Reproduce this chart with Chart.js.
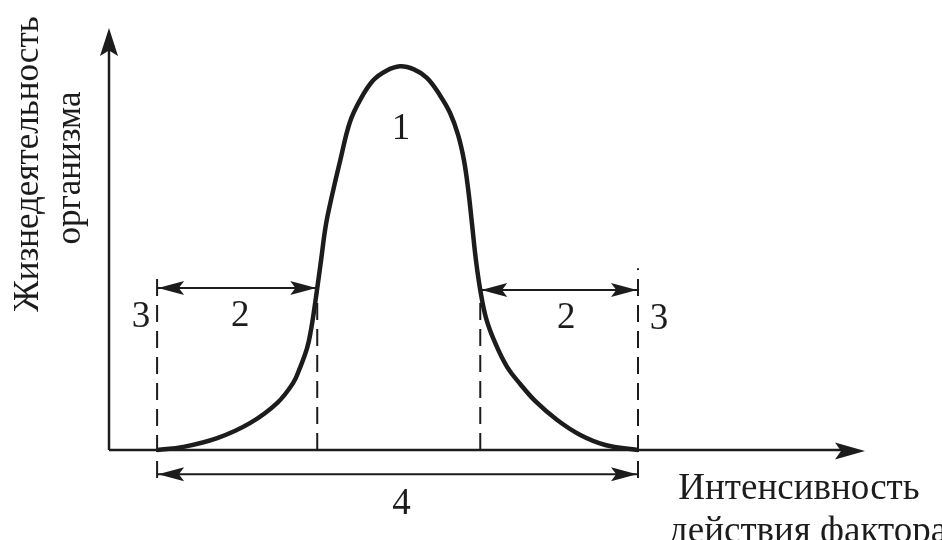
<!DOCTYPE html>
<html lang="ru">
<head>
    <meta charset="UTF-8">
    <title>Жизнедеятельность организма</title>
    <script src="https://cdn.jsdelivr.net/npm/chart.js"></script>
    <style>
        html, body { margin: 0; padding: 0; background: #fff; }
        #chart { display: block; }
    </style>
</head>
<body>
    <canvas id="chart" width="942" height="540"></canvas>

    <script>
        // curve of the organism's vital activity vs. factor intensity
        const curveX = [0, 0.54, 1.25, 1.93, 2.50, 2.83, 2.97, 3.12, 3.20, 3.26, 3.33, 3.41, 3.51, 3.64, 3.81,
                        4.01, 4.22, 4.49, 4.76, 5.05, 5.34, 5.61, 5.88, 6.09, 6.26, 6.38, 6.47, 6.55, 6.63,
                        6.72, 6.84, 7.03, 7.28, 7.55, 7.86, 8.32, 8.80, 9.32, 10.0];
        const curveY = [0, 0.8, 3.1, 7.0, 12.3, 17.5, 21.4, 26.6, 31.3, 36.0, 42.2, 49.5, 58.7, 66.5, 75.6,
                        85.5, 91.2, 96.3, 98.8, 100, 99.2, 97.0, 92.5, 87.9, 82.1, 75.6, 67.8, 58.7, 49.5,
                        41.7, 34.4, 27.9, 21.6, 17.2, 12.8, 7.8, 3.9, 1.3, 0];

        // zone boundaries (x) : lethal limits and optimum limits
        const lethalX = [0, 10];
        const optimumX = [3.33, 6.72];
        const lethalTopY = [44.8, 47.4];
        const optimumTopY = [42.2, 41.7];
        const guideBottomY = -7.3;

        // dimension arrows: "2" (pessimum zones) and "4" (tolerance range)
        const zoneArrowY = [42.2, 41.7];
        const rangeArrowY = -6.3;

        const zoneLabels = ['1', '2', '3', '4'];
        const yTitle = ['Жизнедеятельность', 'организма'];
        const xTitle = ['Интенсивность', 'действия фактора'];

        const ink = '#1c1c1c';
        const serif = '"Liberation Serif", "DejaVu Serif", serif';

        const curve = curveX.map((x, i) => ({ x: x, y: curveY[i] }));

        function guide(x, top, bottom) {
            return {
                data: [{ x: x, y: bottom }, { x: x, y: top }],
                borderColor: ink, borderWidth: 2, borderDash: [17, 9],
                pointRadius: 0, clip: false, fill: false, tension: 0
            };
        }
        function arrow(x1, x2, y) {
            return {
                data: [{ x: x1, y: y }, { x: x2, y: y }],
                borderColor: ink, borderWidth: 2,
                pointRadius: 0, clip: false, fill: false, tension: 0,
                arrows: true
            };
        }

        function head(ctx, tx, ty, dx, dy, len, hw) {
            const px = -dy, py = dx;
            ctx.beginPath();
            ctx.moveTo(tx, ty);
            ctx.lineTo(tx - dx * len + px * hw, ty - dy * len + py * hw);
            ctx.lineTo(tx - dx * len * 0.8, ty - dy * len * 0.8);
            ctx.lineTo(tx - dx * len - px * hw, ty - dy * len - py * hw);
            ctx.closePath();
            ctx.fill();
        }

        const decor = {
            id: 'decor',
            afterDatasetsDraw(chart) {
                const ctx = chart.ctx;
                const a = chart.chartArea;
                const xs = chart.scales.x, ys = chart.scales.y;
                ctx.save();
                ctx.fillStyle = ink;
                ctx.strokeStyle = ink;

                // axes with arrows
                ctx.lineWidth = 2.5;
                ctx.beginPath();
                ctx.moveTo(a.left, a.bottom);
                ctx.lineTo(a.right - 20, a.bottom);
                ctx.moveTo(a.left, a.bottom);
                ctx.lineTo(a.left, a.top + 20);
                ctx.stroke();
                head(ctx, a.right, a.bottom + 1, 1, 0, 30, 8.5);
                head(ctx, a.left, a.top, 0, -1, 28, 9);

                // heads on the dimension arrows
                chart.data.datasets.forEach((ds, i) => {
                    if (!ds.arrows) return;
                    const pts = chart.getDatasetMeta(i).data;
                    const p1 = pts[0], p2 = pts[1];
                    head(ctx, p1.x + 1, p1.y, -1, 0, 26, 7);
                    head(ctx, p2.x - 1, p2.y, 1, 0, 26, 7);
                });

                // zone numbers
                ctx.font = '37px ' + serif;
                ctx.textAlign = 'center';
                ctx.textBaseline = 'alphabetic';
                const peakI = curveY.indexOf(Math.max(...curveY));
                ctx.fillText(zoneLabels[0], xs.getPixelForValue(curveX[peakI]) + 1, ys.getPixelForValue(curveY[peakI]) + 73);
                const yL = ys.getPixelForValue(zoneArrowY[0]);
                const yR = ys.getPixelForValue(zoneArrowY[1]);
                ctx.fillText(zoneLabels[1], xs.getPixelForValue((lethalX[0] + optimumX[0]) / 2) + 3, yL + 38);
                ctx.fillText(zoneLabels[1], xs.getPixelForValue((optimumX[1] + lethalX[1]) / 2) + 7, yR + 38);
                ctx.fillText(zoneLabels[2], xs.getPixelForValue(lethalX[0]) - 16, yL + 39);
                ctx.fillText(zoneLabels[2], xs.getPixelForValue(lethalX[1]) + 21, yR + 39);
                ctx.fillText(zoneLabels[3], xs.getPixelForValue((lethalX[0] + lethalX[1]) / 2) + 4, ys.getPixelForValue(rangeArrowY) + 40);

                // axis titles
                ctx.font = '35px ' + serif;
                ctx.save();
                ctx.translate(38, 164);
                ctx.rotate(-Math.PI / 2);
                ctx.fillText(yTitle[0], 0, 0);
                ctx.restore();
                ctx.save();
                ctx.translate(80, 168);
                ctx.rotate(-Math.PI / 2);
                ctx.fillText(yTitle[1], 0, 0);
                ctx.restore();

                ctx.font = '37px ' + serif;
                ctx.fillText(xTitle[0], 799, 499);
                ctx.fillText(xTitle[1], 808, 542);
                ctx.restore();
            }
        };

        new Chart(document.getElementById('chart'), {
            type: 'line',
            data: {
                datasets: [
                    {
                        data: curve,
                        borderColor: ink, borderWidth: 4.5,
                        pointRadius: 0, fill: false, clip: false,
                        tension: 0.4
                    },
                    guide(lethalX[0], lethalTopY[0], guideBottomY),
                    guide(optimumX[0], optimumTopY[0], 0),
                    guide(optimumX[1], optimumTopY[1], 0),
                    guide(lethalX[1], lethalTopY[1], guideBottomY),
                    arrow(lethalX[0], optimumX[0], zoneArrowY[0]),
                    arrow(optimumX[1], lethalX[1], zoneArrowY[1]),
                    arrow(lethalX[0], lethalX[1], rangeArrowY)
                ]
            },
            options: {
                responsive: false,
                devicePixelRatio: 1,
                animation: false,
                layout: { padding: { left: 109, top: 28, right: 77, bottom: 90 } },
                plugins: { legend: { display: false }, tooltip: { enabled: false } },
                scales: {
                    x: { type: 'linear', min: -1, max: 14.72, display: false },
                    y: { type: 'linear', min: 0, max: 110, display: false }
                }
            },
            plugins: [decor]
        });
    </script>
</body>
</html>
